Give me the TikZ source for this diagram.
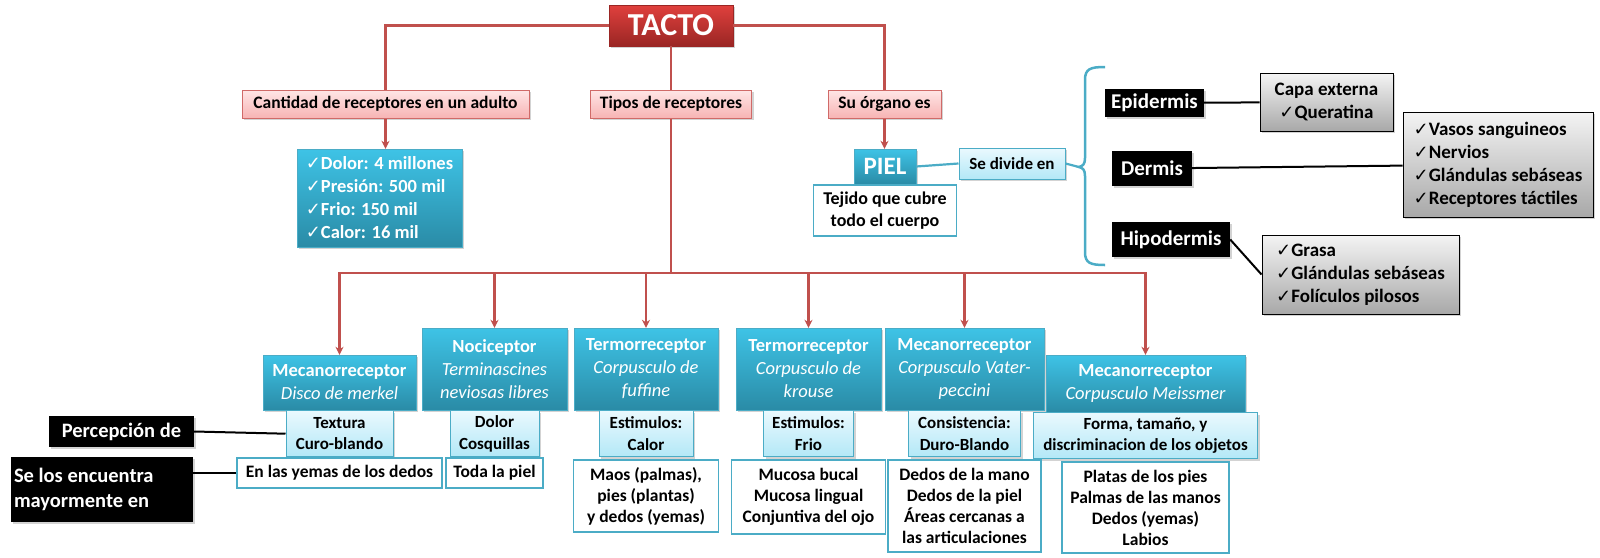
\documentclass[tikz,border=0pt]{standalone}
\usepackage{fontspec}
\setmainfont{Carlito}
\newfontfamily\chkfont{DejaVu Sans}
\usetikzlibrary{arrows.meta,positioning,shadows,decorations.pathreplacing}
\definecolor{rojo}{HTML}{C0504D}
\definecolor{rojotop}{HTML}{E0403D}
\definecolor{rojobot}{HTML}{9A2624}
\definecolor{rosatop}{HTML}{FFE6E6}
\definecolor{rosabot}{HTML}{F7B4B4}
\definecolor{rosaline}{HTML}{D06A68}
\definecolor{aqua}{HTML}{4BACC6}
\definecolor{azultop}{HTML}{3EC3E6}
\definecolor{azulbot}{HTML}{2A8BA6}
\definecolor{celtop}{HTML}{EAF9FE}
\definecolor{celbot}{HTML}{B3E8F7}
\definecolor{gristop}{HTML}{F4F4F4}
\definecolor{grisbot}{HTML}{A8A8A8}
\newcommand{\chk}{{\chkfont\mdseries\fontsize{18}{18}\selectfont ✓}}
\newcommand{\cursiva}[1]{\\{\mdseries\itshape #1}}

\tikzset{
  sombra/.style={drop shadow={opacity=0.35,shadow xshift=2pt,shadow yshift=-2pt}},
  rojo/.style={draw=rojo,line width=2.2pt},
  flecha/.style={rojo,-{Stealth[length=8pt,width=8pt]}},
  tactobox/.style={draw=rojobot,top color=rojotop,bottom color=rojobot,text=white,
    minimum width=124pt,minimum height=41pt,font=\bfseries\fontsize{32}{34}\selectfont,sombra},
  rosa/.style={draw=rosaline,line width=1pt,top color=rosatop,bottom color=rosabot,
    minimum height=28pt,inner sep=2pt,font=\bfseries\fontsize{17.5}{20}\selectfont,sombra},
  azul/.style={draw=aqua,top color=azultop,bottom color=azulbot,text=white,align=center,
    inner sep=2pt,font=\bfseries\fontsize{18.5}{23}\selectfont,sombra},
  celeste/.style={draw=aqua,line width=1pt,top color=celtop,bottom color=celbot,align=center,
    inner sep=2pt,font=\bfseries\fontsize{17}{21.5}\selectfont,sombra},
  blanco/.style={draw=aqua,line width=1.6pt,fill=white,align=center,
    inner sep=2pt,font=\bfseries\fontsize{17.5}{21}\selectfont},
  negro/.style={fill=black,text=white,inner sep=3pt,font=\bfseries\fontsize{20.5}{25}\selectfont,sombra},
  gris/.style={draw=black,line width=1pt,top color=gristop,bottom color=grisbot,
    inner sep=3pt,font=\bfseries\fontsize{19}{23}\selectfont,sombra},
  negrolinea/.style={draw=black,line width=2pt},
  celestelinea/.style={draw=aqua,line width=2.2pt},
  llave/.style={draw=aqua,line width=2.5pt}
}

\begin{document}
\begin{tikzpicture}[x=1pt,y=-1pt]
\useasboundingbox (0,0) rectangle (1600,557);

% titulo y primeras ramas
\node[tactobox] (tacto) at (671,25.5) {TACTO};
\node[rosa,minimum width=287pt] (cant) at (385.5,104) {Cantidad de receptores en un adulto};
\node[rosa,minimum width=161pt] (tipos) at (671,104) {Tipos de receptores};
\node[rosa,minimum width=113pt] (organo) at (884.5,104) {Su órgano es};
\draw[rojo] (tacto.west) -| (cant.north);
\draw[rojo] (tacto.east) -| (organo.north);
\draw[rojo] (tacto.south) -- (tipos.north);

% cantidad de receptores
\node[azul,align=left,minimum width=165pt,minimum height=98pt] (lista) at (379.5,198)
  {\chk Dolor: 4 millones\\\chk Presión: 500 mil\\\chk Frio: 150 mil\\\chk Calor: 16 mil};
\draw[flecha] (cant.south) -- (cant.south |- lista.north);

% la piel
\node[azul,font=\bfseries\fontsize{25}{27}\selectfont,minimum width=62pt,minimum height=35pt] (piel) at (885,166.5) {PIEL};
\draw[flecha] (organo.south) -- (organo.south |- piel.north);
\node[blanco,font=\bfseries\fontsize{18}{22}\selectfont,minimum width=143pt,minimum height=51pt,below=0pt of piel] (tejido) {Tejido que cubre\\todo el cuerpo};
\node[celeste,minimum width=106pt,minimum height=31pt] (divide) at (1012,163.5) {Se divide en};
\draw[celestelinea] (piel.east) -- (divide.west);
\coordinate (punta) at (1079,167);
\draw[llave] (1105,67) .. controls (1090,67) and (1085,69) .. (1085,80) -- (1085,158)
  .. controls (1085,164) and (1083,166) .. (punta) .. controls (1083,168) and (1085,170) .. (1085,176)
  -- (1085,252) .. controls (1085,263) and (1090,265) .. (1105,265);
\draw[celestelinea] (divide.east) -- (punta);

% capas
\node[negro,font=\bfseries\fontsize{21}{25}\selectfont,minimum width=99pt,minimum height=28pt] (epi) at (1154.5,103) {Epidermis};
\node[gris,align=center,minimum width=133pt,minimum height=58pt] (capa) at (1326.5,102) {Capa externa\\\chk Queratina};
\node[negro,font=\bfseries\fontsize{21}{25}\selectfont,minimum width=80pt,minimum height=35pt] (dermis) at (1152,168.5) {Dermis};
\node[gris,align=left,minimum width=190pt,minimum height=105pt] (vasos) at (1498,164.5)
  {\chk Vasos sanguineos\\\chk Nervios\\\chk Glándulas sebáseas\\\chk Receptores táctiles};
\node[negro,font=\bfseries\fontsize{21}{25}\selectfont,minimum width=118pt,minimum height=35pt] (hipo) at (1171,239.5) {Hipodermis};
\node[gris,align=left,minimum width=197pt,minimum height=79pt] (grasa) at (1360.5,274.5)
  {\chk Grasa\\\chk Glándulas sebáseas\\\chk Folículos pilosos};
\draw[negrolinea] (epi) -- (capa);
\draw[negrolinea] (dermis) -- (vasos);
\draw[negrolinea] (hipo.east) -- (grasa.west);

% tipos de receptores
\node[azul,minimum width=153pt,minimum height=55pt] (r1) at (339.5,382.5) {Mecanorreceptor\cursiva{Disco de merkel}};
\node[azul,minimum width=145pt,minimum height=82pt] (r2) at (494.5,369) {Nociceptor\cursiva{Terminascines}\cursiva{neviosas libres}};
\node[azul,minimum width=144pt,minimum height=82pt] (r3) at (646,369) {Termorreceptor\cursiva{Corpusculo de}\cursiva{fuffine}};
\node[azul,minimum width=145pt,minimum height=82pt] (r4) at (808.5,369) {Termorreceptor\cursiva{Corpusculo de}\cursiva{krouse}};
\node[azul,minimum width=159pt,minimum height=82pt] (r5) at (964.5,369) {Mecanorreceptor\cursiva{Corpusculo Vater-}\cursiva{peccini}};
\node[azul,minimum width=199pt,minimum height=57pt] (r6) at (1145.5,383.5) {Mecanorreceptor\cursiva{Corpusculo Meissmer}};

\coordinate (bus) at (671,273);
\draw[rojo] (tipos.south) -- (bus);
\draw[flecha] (bus) -| (r1.north);
\draw[flecha] (bus) -| (r6.north);
\foreach \i in {2,...,5}
  \draw[flecha] (r\i.north |- bus) -- (r\i.north);

% estimulos
\node[celeste,minimum width=107pt,minimum height=46pt,below=0pt of r1] (s1) {Textura\\Curo-blando};
\node[celeste,minimum width=89pt,minimum height=46pt,below=0pt of r2] (s2) {Dolor\\Cosquillas};
\node[celeste,minimum width=94pt,minimum height=46pt,below=0pt of r3] (s3) {Estimulos:\\Calor};
\node[celeste,minimum width=90pt,minimum height=46pt,below=0pt of r4] (s4) {Estimulos:\\Frio};
\node[celeste,minimum width=112pt,minimum height=46pt,below=0pt of r5] (s5) {Consistencia:\\Duro-Blando};
\node[celeste,minimum width=224pt,minimum height=46pt,below=0pt of r6] (s6) {Forma, tamaño, y\\discriminacion de los objetos};

% ubicacion
\node[blanco,minimum width=205pt,minimum height=30pt,below=0pt of s1] (w1) {En las yemas de los dedos};
\node[blanco,minimum width=97pt,minimum height=30pt,below=0pt of s2] (w2) {Toda la piel};
\node[blanco,minimum width=145pt,minimum height=72pt,below=2pt of s3] (w3) {Maos (palmas),\\pies (plantas)\\y dedos (yemas)};
\node[blanco,minimum width=154pt,minimum height=74pt,below=2pt of s4] (w4) {Mucosa bucal\\Mucosa lingual\\Conjuntiva del ojo};
\node[blanco,minimum width=153pt,minimum height=92pt,below=2pt of s5] (w5) {Dedos de la mano\\Dedos de la piel\\Áreas cercanas a\\las articulaciones};
\node[blanco,minimum width=167pt,minimum height=91pt,below=2pt of s6] (w6) {Platas de los pies\\Palmas de las manos\\Dedos (yemas)\\Labios};

% leyenda
\node[negro,minimum width=145pt,minimum height=31pt] (perc) at (121.5,431.5) {Percepción de};
\node[negro,text width=176pt,align=flush left,minimum height=65pt] (selos) at (102,489.5) {Se los encuentra\\mayormente en};
\draw[negrolinea] (perc.east) -- (s1.west);
\draw[negrolinea] (w1.west -| selos.east) -- (w1.west);
\end{tikzpicture}
\end{document}
